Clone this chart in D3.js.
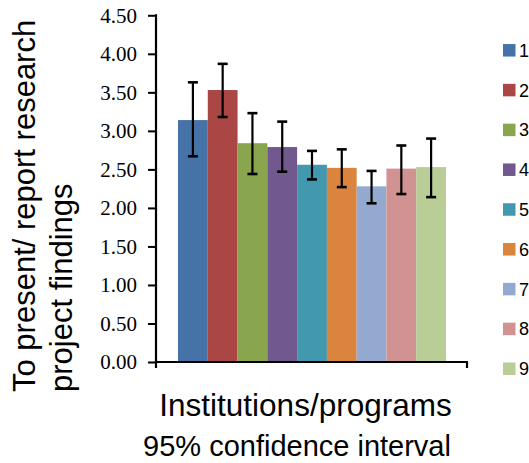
<!DOCTYPE html>
<html>
<head>
<meta charset="utf-8">
<script src="https://cdn.jsdelivr.net/npm/d3@7"></script>
<style>
  html, body { margin: 0; padding: 0; background: #ffffff; }
  svg { display: block; }
  .ytick text { font-family: "Times New Roman", Times, "Liberation Serif", "DejaVu Serif", "Noto Serif", serif; font-size: 21px; }
</style>
</head>
<body>
<svg id="chart" width="529" height="463"></svg>
<script>
// ---- data ----
const categories = ["1", "2", "3", "4", "5", "6", "7", "8", "9"];
const means      = [3.14, 3.53, 2.84, 2.79, 2.56, 2.52, 2.28, 2.51, 2.53];
const ciLow      = [2.67, 3.18, 2.44, 2.47, 2.37, 2.27, 2.06, 2.18, 2.14];
const ciHigh     = [3.63, 3.87, 3.23, 3.12, 2.74, 2.76, 2.48, 2.81, 2.90];
const colors     = ["#4572A7", "#AA4643", "#89A54E", "#71588F", "#4198AF",
                    "#DB843D", "#93A9CF", "#D19392", "#B9CD96"];
const yTicks     = [0, 0.5, 1, 1.5, 2, 2.5, 3, 3.5, 4, 4.5];
const yTitle     = ["To present/ report research", "project findings"];
const xTitle     = "Institutions/programs";
const subTitle   = "95% confidence interval";

// ---- layout ----
const svg = d3.select("#chart");
const axisX0 = 156, axisX1 = 467;
const yTop = 15.3, yBottom = 362;
const barGap = 22;

const y = d3.scaleLinear().domain([0, 4.5]).range([yBottom, yTop]);
const x = d3.scaleBand().domain(categories)
  .range([axisX0 + barGap, axisX1 - barGap + 1]).padding(0);

const data = categories.map((c, i) => ({c, m: means[i], lo: ciLow[i], hi: ciHigh[i], col: colors[i]}));

// bars
svg.append("g").selectAll("rect").data(data).join("rect")
  .attr("x", d => x(d.c))
  .attr("y", d => y(d.m))
  .attr("width", x.bandwidth())
  .attr("height", d => y(0) - y(d.m))
  .attr("fill", d => d.col);

// error bars
const eb = svg.append("g").attr("stroke", "#000").attr("stroke-width", 2.2);
const capW = 5;
data.forEach(d => {
  const cx = x(d.c) + x.bandwidth() / 2;
  eb.append("line").attr("x1", cx).attr("x2", cx).attr("y1", y(d.hi)).attr("y2", y(d.lo));
  eb.append("line").attr("x1", cx - capW).attr("x2", cx + capW).attr("y1", y(d.hi)).attr("y2", y(d.hi)).attr("stroke-width", 2.6);
  eb.append("line").attr("x1", cx - capW).attr("x2", cx + capW).attr("y1", y(d.lo)).attr("y2", y(d.lo)).attr("stroke-width", 2.6);
});

// y axis
const yAxis = d3.axisLeft(y).tickValues(yTicks).tickFormat(d3.format(".2f"))
  .tickSize(8).tickPadding(11);
const gy = svg.append("g").attr("class", "ytick").attr("transform", `translate(${axisX0},0)`).call(yAxis);
gy.attr("font-family", null).attr("font-size", null);
gy.select(".domain").remove();
gy.selectAll(".tick line").attr("stroke", "#000").attr("stroke-width", 2);
gy.selectAll(".tick text").attr("fill", "#000");

// axis lines
const axes = svg.append("g").attr("stroke", "#000").attr("stroke-width", 2.2).attr("fill", "none");
axes.append("line").attr("x1", axisX0).attr("x2", axisX0).attr("y1", y(4.5) - 1).attr("y2", yBottom + 6);
axes.append("line").attr("x1", axisX0 - 1).attr("x2", axisX1 + 1).attr("y1", yBottom).attr("y2", yBottom);
axes.append("line").attr("x1", axisX1).attr("x2", axisX1).attr("y1", yBottom).attr("y2", yBottom + 6);

// y title
const sans = "'Liberation Sans', Arial, Helvetica, sans-serif";
[35, 72].forEach((bx, i) => {
  svg.append("text")
    .attr("transform", `translate(${bx},392) rotate(-90)`)
    .attr("text-anchor", "start")
    .style("font-family", sans).style("font-size", "31px").attr("fill", "#000")
    .text(yTitle[i]);
});

// x titles
svg.append("text").attr("x", 305.5).attr("y", 416).attr("text-anchor", "middle")
  .style("font-family", sans).style("font-size", "31.5px").attr("fill", "#000").text(xTitle);
svg.append("text").attr("x", 297).attr("y", 456).attr("text-anchor", "middle")
  .style("font-family", sans).style("font-size", "29px").attr("fill", "#000").text(subTitle);

// legend
const leg = svg.append("g");
const legY0 = 50.3, legStep = 39.8, sq = 12.5;
data.forEach((d, i) => {
  const cy = legY0 + i * legStep;
  leg.append("rect").attr("x", 503).attr("y", cy - sq / 2).attr("width", sq).attr("height", sq).attr("fill", d.col);
  leg.append("text").attr("x", 519).attr("y", cy).attr("dy", "0.36em")
    .style("font-family", "'Liberation Sans', sans-serif").style("font-size", "18px").attr("fill", "#000")
    .text(d.c);
});
</script>
</body>
</html>
